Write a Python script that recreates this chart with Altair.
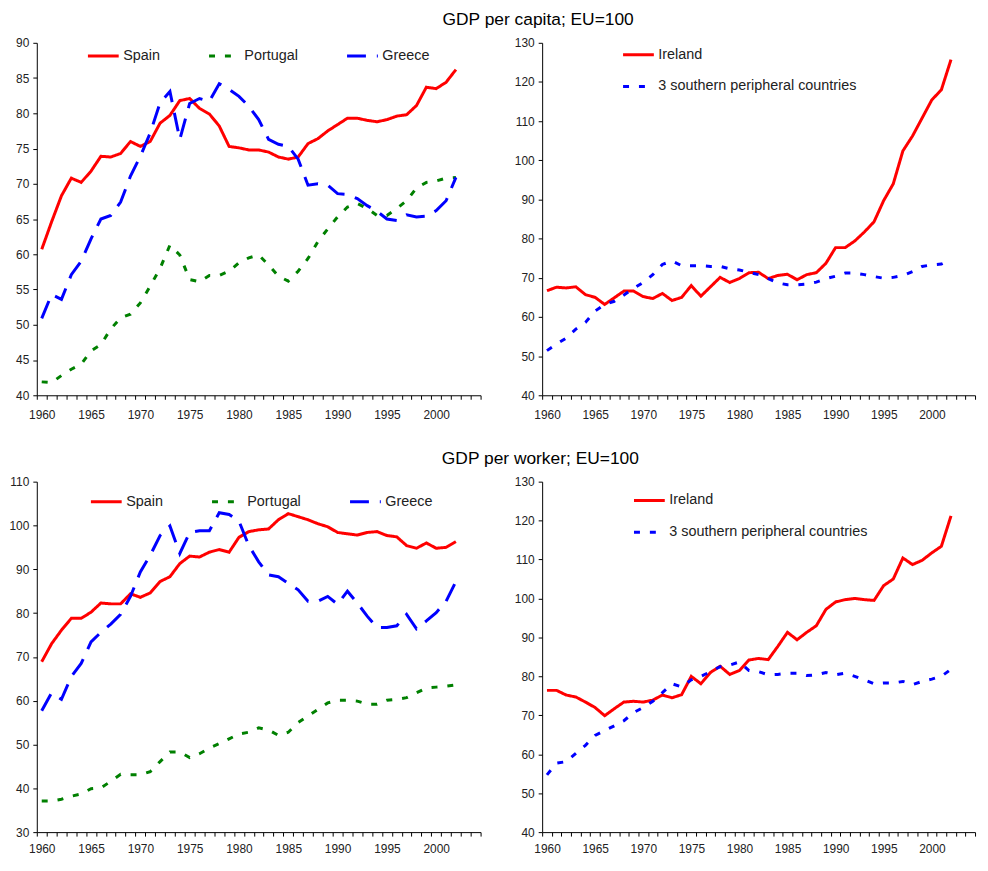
import altair as alt
import pandas as pd

years = list(range(1960, 2003))

# GDP per capita; EU=100
cap_spain = [60.7, 64.6, 68.3, 70.8, 70.2, 71.8, 73.9, 73.8, 74.3, 76.0,
             75.3, 76.0, 78.6, 79.7, 81.8, 82.1, 80.7, 79.9, 78.2, 75.3,
             75.1, 74.8, 74.8, 74.5, 73.8, 73.5, 73.8, 75.7, 76.4, 77.5,
             78.4, 79.3, 79.3, 79.0, 78.8, 79.1, 79.6, 79.8, 81.1, 83.7,
             83.5, 84.4, 86.2]
cap_portugal = [41.9, 41.8, 42.8, 43.7, 44.4, 46.3, 47.2, 49.4, 51.0, 51.5,
                53.1, 55.5, 58.0, 61.3, 59.9, 56.4, 56.1, 57.0, 57.0, 57.6,
                58.8, 59.5, 59.9, 58.5, 56.9, 56.2, 57.6, 59.4, 61.8, 63.6,
                65.3, 66.7, 67.2, 66.5, 65.5, 65.5, 66.5, 67.6, 69.4, 70.2,
                70.4, 70.8, 70.9]
cap_greece = [50.9, 54.3, 53.6, 57.1, 59.0, 62.2, 65.0, 65.5, 67.4, 71.1,
              73.9, 77.2, 81.5, 83.1, 76.3, 81.4, 82.1, 81.7, 84.2, 83.4,
              82.4, 81.0, 79.1, 76.3, 75.6, 75.3, 73.5, 69.8, 70.0, 69.8,
              68.6, 68.5, 67.9, 66.9, 66.1, 65.0, 64.8, 65.6, 65.3, 65.4,
              66.2, 67.6, 70.9]
cap_ireland = [66.7, 67.6, 67.4, 67.7, 65.7, 65.0, 63.2, 64.9, 66.6, 66.6,
               65.2, 64.7, 66.0, 64.2, 65.0, 68.0, 65.3, 67.7, 70.1, 68.8,
               69.8, 71.3, 71.4, 69.8, 70.6, 70.9, 69.5, 70.8, 71.3, 73.7,
               77.7, 77.7, 79.4, 81.7, 84.3, 89.7, 94.0, 102.4, 106.2, 110.8,
               115.4, 118.0, 125.7]
cap_south3 = [51.4, 53.1, 54.6, 56.9, 58.6, 61.5, 63.2, 64.0, 65.6, 67.3,
              68.8, 70.8, 73.4, 74.3, 73.1, 73.1, 73.1, 72.9, 72.9, 72.3,
              72.0, 71.4, 70.8, 69.8, 68.7, 68.2, 68.2, 68.4, 68.9, 69.8,
              70.4, 71.2, 71.2, 70.8, 70.3, 69.9, 70.1, 70.6, 71.6, 72.9,
              73.3, 73.5, 74.6]

# GDP per worker; EU=100
wrk_spain = [68.9, 73.0, 76.1, 78.8, 78.8, 80.2, 82.3, 82.1, 82.1, 84.4,
             83.6, 84.6, 87.2, 88.3, 91.3, 93.0, 92.8, 93.9, 94.5, 93.9,
             97.3, 98.6, 99.0, 99.2, 101.3, 102.7, 102.0, 101.3, 100.4, 99.7,
             98.4, 98.1, 97.8, 98.4, 98.6, 97.7, 97.4, 95.4, 94.8, 96.0,
             94.8, 95.0, 96.3]
wrk_portugal = [37.1, 37.1, 37.5, 38.2, 38.7, 39.9, 40.1, 41.6, 43.2, 43.1,
                43.1, 43.8, 46.1, 48.3, 48.3, 47.0, 47.9, 49.2, 50.2, 51.3,
                52.4, 52.8, 53.8, 53.3, 52.1, 52.8, 55.0, 56.5, 58.0, 59.5,
                60.1, 60.1, 59.9, 59.2, 59.2, 60.1, 60.3, 60.7, 61.8, 62.9,
                63.1, 63.3, 63.6]
wrk_greece = [57.7, 61.8, 60.3, 65.5, 68.5, 73.4, 75.6, 77.5, 79.7, 83.8,
              89.4, 93.2, 97.7, 99.9, 93.6, 98.4, 98.8, 98.8, 102.9, 102.5,
              101.0, 95.4, 91.7, 88.7, 88.3, 86.8, 85.3, 82.7, 82.7, 83.8,
              82.0, 85.0, 82.3, 79.3, 76.7, 76.7, 77.1, 79.7, 76.4, 78.2,
              80.1, 82.7, 87.2]
wrk_ireland = [76.4, 76.4, 75.2, 74.7, 73.4, 72.0, 69.9, 71.7, 73.4, 73.6,
               73.4, 73.9, 75.2, 74.5, 75.3, 80.0, 78.1, 81.0, 82.6, 80.5,
               81.5, 84.2, 84.6, 84.3, 87.7, 91.3, 89.4, 91.3, 93.0, 97.2,
               99.1, 99.7, 100.0, 99.7, 99.5, 103.3, 105.0, 110.4, 108.7, 109.8,
               111.7, 113.4, 121.2]
wrk_south3 = [54.7, 57.7, 58.1, 60.2, 62.3, 64.8, 66.1, 67.3, 68.6, 70.7,
              72.0, 73.6, 75.8, 78.1, 77.3, 79.1, 80.0, 81.2, 82.5, 82.9,
              83.7, 81.5, 81.2, 80.4, 80.5, 80.8, 80.8, 80.2, 80.4, 81.0,
              80.4, 80.8, 80.0, 79.1, 78.1, 78.3, 78.3, 78.7, 77.9, 78.7,
              79.3, 80.0, 81.8]

south_names = ["Spain", "Portugal", "Greece"]
south_colors = ["#ff0000", "#008000", "#0000ff"]
south_dash = [[1, 0], [6, 10], [19, 11]]

ire_names = ["Ireland", "3 southern peripheral countries"]
ire_colors = ["#ff0000", "#0000ff"]
ire_dash = [[1, 0], [6, 10]]

FONT = "Liberation Sans"
TXT = "#222222"
TICK_FS = 12


def frame(names, series):
    rows = []
    for name, vals in zip(names, series):
        for y, v in zip(years, vals):
            rows.append({"year": y, "value": v, "series": name})
    return pd.DataFrame(rows)


x_ticks = [1959.5 + i for i in range(46)]


def x_enc(pad):
    return alt.X(
        "year:Q",
        scale=alt.Scale(domain=[1959.5, 2004.5], nice=False, zero=False),
        axis=alt.Axis(
            values=x_ticks,
            labelExpr="(datum.value < 2003 && (datum.value + 0.5) % 5 == 0) ? toString(datum.value + 0.5) : ''",
            labelOffset=5,
            labelFlush=False,
            labelOverlap=False,
            labelBound=False,
            labelPadding=pad,
            labelFont=FONT,
            labelFontSize=TICK_FS,
            labelColor=TXT,
            title=None,
            grid=False,
            tickSize=4,
            domainColor="black",
            tickColor="black",
        ),
    )


def y_enc(lo, hi, step):
    return alt.Y(
        "value:Q",
        scale=alt.Scale(domain=[lo, hi], nice=False, zero=False),
        axis=alt.Axis(
            values=list(range(lo, hi + 1, step)),
            title=None,
            grid=False,
            tickSize=4,
            labelPadding=4,
            labelFlush=False,
            labelOverlap=False,
            labelFont=FONT,
            labelFontSize=TICK_FS,
            labelColor=TXT,
            domainColor="black",
            tickColor="black",
        ),
    )


def legend(lx, ly, horizontal):
    kw = dict(
        title=None,
        orient="none",
        legendX=lx,
        legendY=ly,
        symbolType="stroke",
        symbolSize=961,
        symbolStrokeWidth=3,
        labelFont=FONT,
        labelFontSize=14.5,
        labelColor=TXT,
        labelOffset=3,
        labelLimit=400,
        padding=0,
    )
    if horizontal:
        kw.update(direction="horizontal", columns=3, columnPadding=42)
    else:
        kw.update(direction="vertical", rowPadding=8)
    return alt.Legend(**kw)


def panel(names, series, colors, dashes, lo, hi, step, w, h, lx, ly, horizontal, pad):
    df = frame(names, series)
    leg = legend(lx, ly, horizontal)
    return (
        alt.Chart(df)
        .mark_line(strokeWidth=3, strokeCap="butt")
        .encode(
            x=x_enc(pad),
            y=y_enc(lo, hi, step),
            color=alt.Color("series:N", scale=alt.Scale(domain=names, range=colors), legend=leg),
            strokeDash=alt.StrokeDash("series:N", scale=alt.Scale(domain=names, range=dashes), legend=leg),
            order=alt.Order("year:Q"),
        )
        .properties(width=w, height=h)
    )


p1 = panel(south_names, [cap_spain, cap_portugal, cap_greece], south_colors, south_dash,
           40, 90, 5, 447, 355, 50, -4, True, 10)
p2 = panel(ire_names, [cap_ireland, cap_south3], ire_colors, ire_dash,
           40, 130, 10, 436, 355, 80, -5, False, 10)
p3 = panel(south_names, [wrk_spain, wrk_portugal, wrk_greece], south_colors, south_dash,
           30, 110, 10, 447, 353, 53, 3, True, 8)
p4 = panel(ire_names, [wrk_ireland, wrk_south3], ire_colors, ire_dash,
           40, 130, 10, 436, 353, 91, 2, False, 8)


def ttl(text, dx):
    return alt.TitleParams(text=text, font=FONT, fontSize=17.5, fontWeight="normal",
                           color="black", anchor="start", dx=dx, offset=8)


row1 = alt.hconcat(p1, p2, spacing=28, title=ttl("GDP per capita; EU=100", 430)).resolve_scale(
    color="independent", strokeDash="independent")
row2 = alt.hconcat(p3, p4, spacing=28, title=ttl("GDP per worker; EU=100", 436)).resolve_scale(
    color="independent", strokeDash="independent")

chart = (
    alt.vconcat(row1, row2, spacing=30)
    .resolve_scale(color="independent", strokeDash="independent")
    .properties(padding={"left": 0, "top": 0, "right": 0, "bottom": 0})
    .configure_view(stroke=None)
)

chart.save("out.html", embed_options={"renderer": "svg", "actions": False})
